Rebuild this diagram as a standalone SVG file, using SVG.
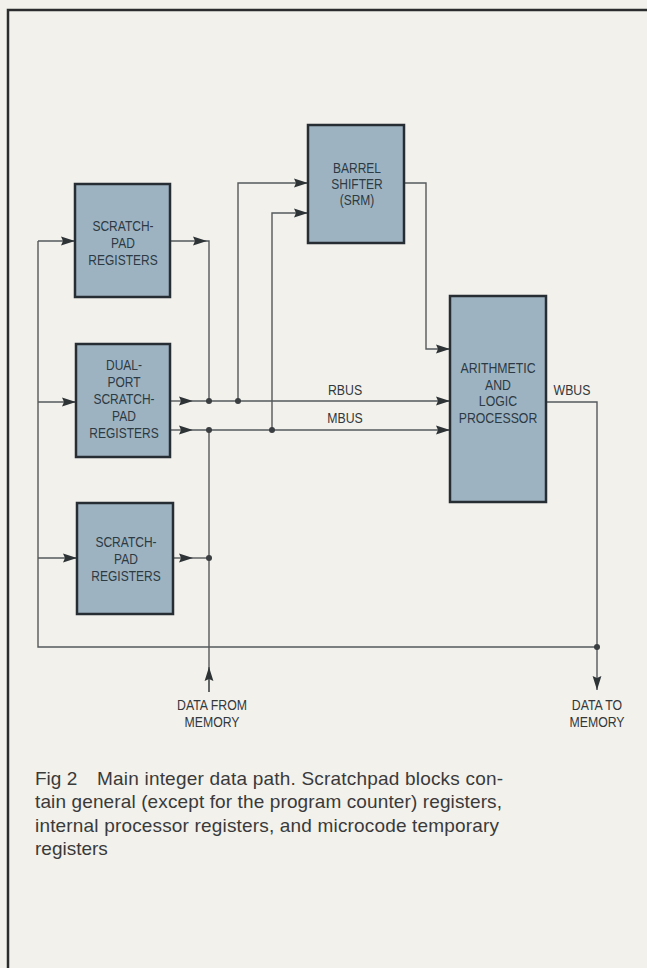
<svg xmlns="http://www.w3.org/2000/svg" width="647" height="968" viewBox="0 0 647 968">
<defs>
<style>
.bg{fill:#f2f1ec}
.frame{fill:none;stroke:#2a2c2e;stroke-width:2.5}
.blk{fill:#9eb3c1;stroke:#262d33;stroke-width:2.5}
.bt{font-family:"Liberation Sans",Arial,sans-serif;font-size:15px;fill:#2c3a44;text-anchor:middle}
.lbl{font-family:"Liberation Sans",Arial,sans-serif;font-size:15px;fill:#33383b;text-anchor:middle}
.ln{fill:none;stroke:#55595b;stroke-width:1.4}
.dot{fill:#3a3e40}
.cap{font-family:"Liberation Sans",Arial,sans-serif;font-size:19px;fill:#3a3a3a}
</style>
<marker id="ah" markerUnits="userSpaceOnUse" markerWidth="14" markerHeight="10" viewBox="0 0 14 10" refX="14" refY="5" orient="auto">
<path d="M0,0.6 L14,5 L0,9.4 L2,5 Z" fill="#2e3336"/>
</marker>
</defs>
<rect class="bg" x="0" y="0" width="647" height="968"/>
<polyline class="frame" points="8,968 8,10 647,10"/>

<g id="connectors">
<polyline class="ln" points="597,647 38,647 38,241"/>
<line class="ln" x1="38" y1="241" x2="75" y2="241" marker-end="url(#ah)"/>
<line class="ln" x1="38" y1="402" x2="76" y2="402" marker-end="url(#ah)"/>
<line class="ln" x1="38" y1="558" x2="77" y2="558" marker-end="url(#ah)"/>
<line class="ln" x1="170" y1="241" x2="207" y2="241" marker-end="url(#ah)"/>
<polyline class="ln" points="207,241 209,241 209,401"/>
<line class="ln" x1="170" y1="401" x2="193" y2="401" marker-end="url(#ah)"/>
<line class="ln" x1="193" y1="401" x2="450" y2="401" marker-end="url(#ah)"/>
<line class="ln" x1="170" y1="430" x2="193" y2="430" marker-end="url(#ah)"/>
<line class="ln" x1="193" y1="430" x2="450" y2="430" marker-end="url(#ah)"/>
<line class="ln" x1="173" y1="558" x2="193" y2="558" marker-end="url(#ah)"/>
<line class="ln" x1="193" y1="558" x2="209" y2="558"/>
<line class="ln" x1="209" y1="430" x2="209" y2="692"/>
<line class="ln" x1="209" y1="692" x2="209" y2="667" marker-end="url(#ah)"/>
<polyline class="ln" points="238,401 238,183 308,183" marker-end="url(#ah)"/>
<polyline class="ln" points="272,430 272,213 308,213" marker-end="url(#ah)"/>
<polyline class="ln" points="404,183 426,183 426,349 450,349" marker-end="url(#ah)"/>
<polyline class="ln" points="546,402 597,402 597,690" marker-end="url(#ah)"/>
<circle class="dot" cx="209" cy="401" r="3"/>
<circle class="dot" cx="238" cy="401" r="3"/>
<circle class="dot" cx="209" cy="430" r="3"/>
<circle class="dot" cx="272" cy="430" r="3"/>
<circle class="dot" cx="209" cy="558" r="3"/>
<circle class="dot" cx="597" cy="647" r="3"/>
<g transform="translate(345 0) scale(0.82 1)">
<text class="lbl" x="0" y="395">RBUS</text>
<text class="lbl" x="0" y="423">MBUS</text>
</g>
<g transform="translate(572 0) scale(0.82 1)">
<text class="lbl" x="0" y="395">WBUS</text>
</g>
</g>

<g id="scratchpad-top">
<rect class="blk" x="75" y="184" width="95" height="113"/>
<g transform="translate(123 0) scale(0.8 1)">
<text class="bt" x="0" y="231">SCRATCH-</text>
<text class="bt" x="0" y="248">PAD</text>
<text class="bt" x="0" y="265">REGISTERS</text>
</g>
</g>

<g id="dual-port">
<rect class="blk" x="76" y="344" width="94" height="113"/>
<g transform="translate(124 0) scale(0.8 1)">
<text class="bt" x="0" y="370">DUAL-</text>
<text class="bt" x="0" y="387">PORT</text>
<text class="bt" x="0" y="404">SCRATCH-</text>
<text class="bt" x="0" y="421">PAD</text>
<text class="bt" x="0" y="438">REGISTERS</text>
</g>
</g>

<g id="scratchpad-bottom">
<rect class="blk" x="77" y="503" width="96" height="111"/>
<g transform="translate(126 0) scale(0.8 1)">
<text class="bt" x="0" y="547">SCRATCH-</text>
<text class="bt" x="0" y="564">PAD</text>
<text class="bt" x="0" y="581">REGISTERS</text>
</g>
</g>

<g id="barrel-shifter">
<rect class="blk" x="308" y="125" width="96" height="118"/>
<g transform="translate(357 0) scale(0.8 1)">
<text class="bt" x="0" y="173">BARREL</text>
<text class="bt" x="0" y="189">SHIFTER</text>
<text class="bt" x="0" y="205">(SRM)</text>
</g>
</g>

<g id="alp">
<rect class="blk" x="450" y="296" width="96" height="206"/>
<g transform="translate(498 0) scale(0.82 1)">
<text class="bt" x="0" y="373">ARITHMETIC</text>
<text class="bt" x="0" y="390">AND</text>
<text class="bt" x="0" y="406">LOGIC</text>
<text class="bt" x="0" y="423">PROCESSOR</text>
</g>
</g>

<g id="data-from-memory">
<g transform="translate(212 0) scale(0.82 1)">
<text class="lbl" x="0" y="710">DATA FROM</text>
<text class="lbl" x="0" y="727">MEMORY</text>
</g>
</g>
<g id="data-to-memory">
<g transform="translate(597 0) scale(0.82 1)">
<text class="lbl" x="0" y="710">DATA TO</text>
<text class="lbl" x="0" y="727">MEMORY</text>
</g>
</g>

<g id="caption">
<text class="cap" x="35" y="785">Fig 2</text>
<text class="cap" x="97" y="785" textLength="406" lengthAdjust="spacing">Main integer data path. Scratchpad blocks con-</text>
<text class="cap" x="35" y="808" textLength="467" lengthAdjust="spacing">tain general (except for the program counter) registers,</text>
<text class="cap" x="35" y="832" textLength="464" lengthAdjust="spacing">internal processor registers, and microcode temporary</text>
<text class="cap" x="35" y="855">registers</text>
</g>
</svg>
